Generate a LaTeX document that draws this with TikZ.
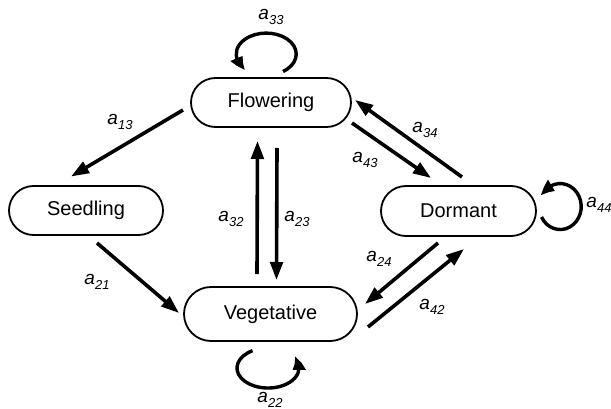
\documentclass[tikz,border=0pt]{standalone}
\usepackage{fontspec}
\setmainfont{Liberation Sans}
\usetikzlibrary{arrows.meta,shapes.misc,bending}
\newcommand{\trlab}[1]{\textit{a}\kern0.3pt\raisebox{-5pt}{\fontsize{13}{13}\selectfont\textit{#1}}}
\tikzset{
  stage/.style={rounded rectangle, draw, line width=1.8pt, inner sep=0pt,
    font=\fontsize{20}{24}\selectfont},
  trans/.style={line width=3.6pt, -{Triangle[length=18pt,width=12.5pt]}},
  loopar/.style={line width=3.4pt, -{Triangle[length=15pt,width=12pt,bend]}},
  tlab/.style={inner sep=0pt, font=\fontsize{19}{22}\selectfont}
}
\begin{document}
\begin{tikzpicture}[x=1pt,y=-1pt]
\useasboundingbox (0,0) rectangle (611,409);
% stages
\node[stage, minimum width=160pt, minimum height=49pt] (fl) at (271,102.5) {Flowering};
\node[stage, minimum width=154pt, minimum height=49pt] (se) at (86,210.5) {Seedling};
\node[stage, minimum width=155pt, minimum height=50pt] (do) at (458.5,211) {Dormant};
\node[stage, minimum width=173pt, minimum height=54pt] (ve) at (270.5,314) {Vegetative};
% transitions
\draw[trans] ([shift={(-88,7.5)}]fl.center) -- ([shift={(-15,-34)}]se.center);
\draw[trans] ([shift={(11,32.5)}]se.center) -- ([shift={(-91.5,-1)}]ve.center);
\draw[trans] ([shift={(-13.5,-40)}]ve.center) -- ([shift={(-13.5,38.5)}]fl.center);
\draw[trans] ([shift={(6,45.5)}]fl.center) -- ([shift={(6,-34)}]ve.center);
\draw[trans] ([shift={(81,20.5)}]fl.center) -- ([shift={(-27.5,-33)}]do.center);
\draw[trans] ([shift={(3.5,-34)}]do.center) -- ([shift={(84,-2.5)}]fl.center);
\draw[trans] ([shift={(-20.5,32)}]do.center) -- ([shift={(94.5,-10)}]ve.center);
\draw[trans] ([shift={(97.5,13)}]ve.center) -- ([shift={(5.5,38)}]do.center);
% self loops
\draw[loopar] ([shift={(12,-31)}]fl.center) arc[start angle=56, end angle=-227, x radius=30, y radius=21];
\draw[loopar] ([shift={(-18,36.7)}]ve.center) arc[start angle=-120, end angle=-394, x radius=31, y radius=20];
\draw[loopar] ([shift={(83,6)}]do.center) arc[start angle=153, end angle=-153, x radius=21, y radius=23];
% labels
\node[tlab] (l13) at (120,122) {\trlab{13}};
\node[tlab] (l21) at (97,282) {\trlab{21}};
\node[tlab] (l32) at (231,219) {\trlab{32}};
\node[tlab] (l23) at (297,219) {\trlab{23}};
\node[tlab] (l34) at (425,130) {\trlab{34}};
\node[tlab] (l43) at (365,160) {\trlab{43}};
\node[tlab] (l24) at (379,259) {\trlab{24}};
\node[tlab] (l42) at (432,307) {\trlab{42}};
\node[tlab] (l33) at (271,17) {\trlab{33}};
\node[tlab] (l44) at (599,205) {\trlab{44}};
\node[tlab] (l22) at (270,400) {\trlab{22}};
\end{tikzpicture}
\end{document}
